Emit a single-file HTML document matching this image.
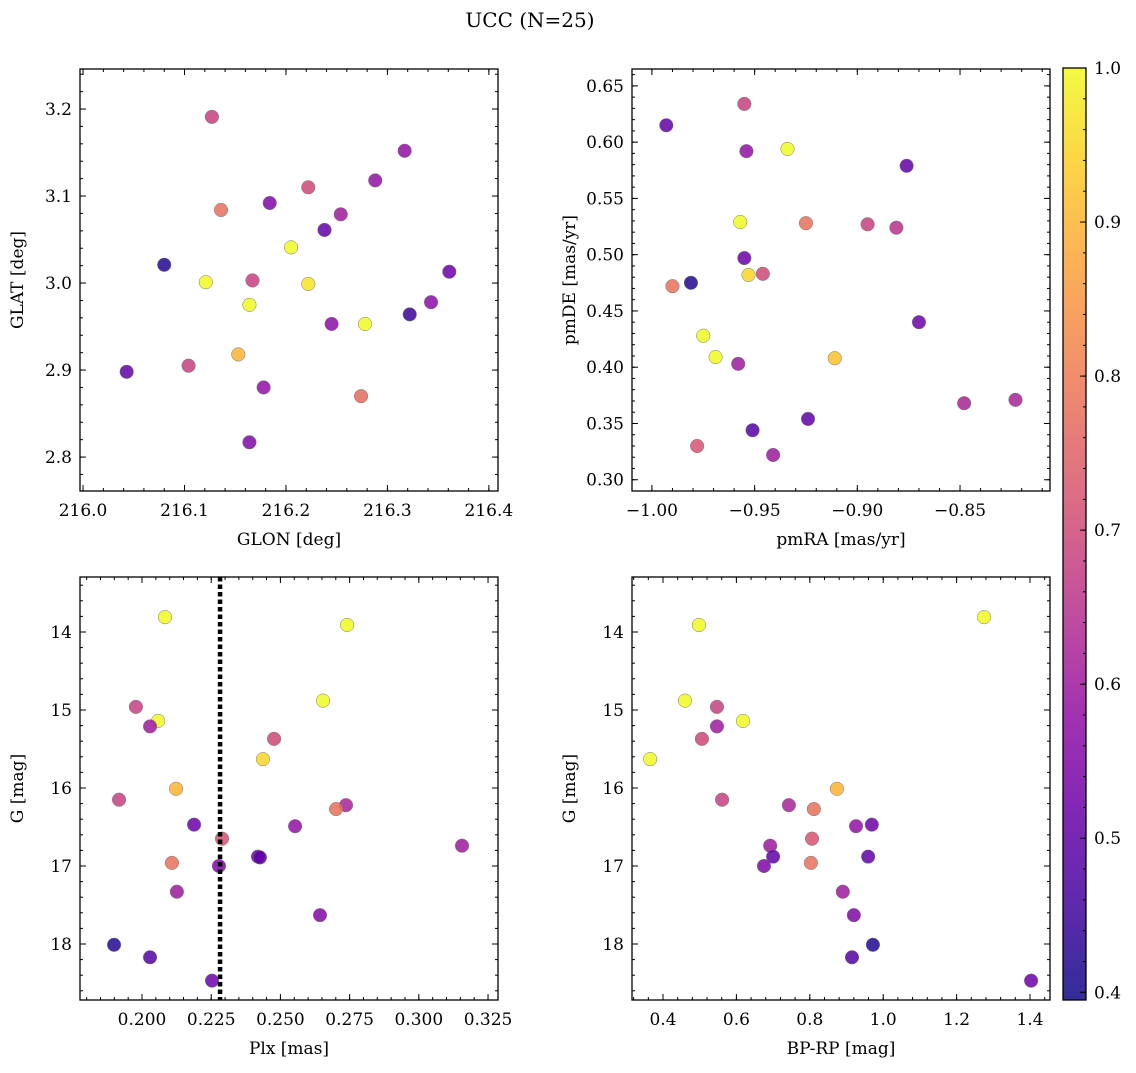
<!DOCTYPE html>
<html><head><meta charset="utf-8"><style>
body{margin:0;background:#fff}
svg text{font-family:"DejaVu Serif","Liberation Serif",serif;fill:#000}
</style></head><body>
<svg id="fig" width="1136" height="1068" xmlns="http://www.w3.org/2000/svg">
<text x="530" y="27" font-size="20" text-anchor="middle">UCC (N=25)</text>
<defs><linearGradient id="cg" x1="0" y1="1" x2="0" y2="0"></linearGradient></defs>
</svg>
<script>
// ---- data ----
const glon=[216.127,216.136,216.184,216.222,216.288,216.317,216.254,216.238,216.205,216.080,216.121,216.167,216.222,216.164,216.361,216.343,216.322,216.245,216.278,216.153,216.043,216.104,216.178,216.274,216.164];
const glat=[3.191,3.084,3.092,3.110,3.118,3.152,3.079,3.061,3.041,3.021,3.001,3.003,2.999,2.975,3.013,2.978,2.964,2.953,2.953,2.918,2.898,2.905,2.880,2.870,2.817];
const prob1=[0.68,0.78,0.55,0.70,0.58,0.58,0.60,0.50,1.0,0.42,1.0,0.68,0.97,1.0,0.52,0.57,0.45,0.57,1.0,0.90,0.50,0.68,0.58,0.77,0.55];
const pmra=[-0.955,-0.993,-0.954,-0.934,-0.876,-0.957,-0.925,-0.895,-0.881,-0.955,-0.953,-0.946,-0.981,-0.990,-0.975,-0.969,-0.958,-0.911,-0.870,-0.848,-0.823,-0.924,-0.951,-0.978,-0.941];
const pmde=[0.634,0.615,0.592,0.594,0.579,0.529,0.528,0.527,0.524,0.497,0.482,0.483,0.475,0.472,0.428,0.409,0.403,0.408,0.440,0.368,0.371,0.354,0.344,0.330,0.322];
const prob2=[0.68,0.50,0.58,1.0,0.50,1.0,0.78,0.68,0.65,0.52,0.95,0.70,0.42,0.78,1.0,1.0,0.60,0.92,0.52,0.62,0.62,0.50,0.48,0.72,0.60];
const plx=[0.2083,0.2741,0.1978,0.2058,0.2029,0.2654,0.2477,0.2437,0.1917,0.2123,0.2737,0.2701,0.2553,0.2188,0.2289,0.3156,0.2419,0.2426,0.2278,0.2108,0.2126,0.2643,0.1899,0.2029,0.2253];
const gmag3=[13.81,13.91,14.96,15.14,15.21,14.88,15.37,15.63,16.15,16.01,16.22,16.27,16.49,16.47,16.65,16.74,16.88,16.89,17.00,16.96,17.33,17.63,18.01,18.17,18.47];
const prob3=[1.0,1.0,0.68,1.0,0.60,1.0,0.70,0.95,0.68,0.90,0.62,0.78,0.58,0.52,0.72,0.60,0.50,0.50,0.55,0.78,0.60,0.55,0.42,0.48,0.52];
const bprp=[1.275,0.498,0.460,0.547,0.547,0.506,0.618,0.365,0.561,0.874,0.743,0.811,0.926,0.969,0.806,0.692,0.700,0.959,0.675,0.803,0.890,0.920,0.972,0.915,1.403];
const gmag4=[13.81,13.91,14.88,14.96,15.21,15.37,15.14,15.63,16.15,16.01,16.22,16.27,16.49,16.47,16.65,16.74,16.88,16.88,17.00,16.96,17.33,17.63,18.01,18.17,18.47];
const prob4=[1.0,1.0,1.0,0.68,0.60,0.70,1.0,1.0,0.68,0.90,0.62,0.78,0.58,0.52,0.72,0.60,0.50,0.50,0.55,0.78,0.60,0.55,0.42,0.48,0.52];
const plxCut=0.2282;
const cbTicks=[0.4,0.5,0.6,0.7,0.8,0.9,1.0];
const VMIN=0.395, VMAX=1.0;

const NS="http://www.w3.org/2000/svg";
const svg=document.getElementById('fig');
function mk(tag,attrs,parent){const e=document.createElementNS(NS,tag);for(const k in attrs)e.setAttribute(k,attrs[k]);(parent||svg).appendChild(e);return e;}
const stops=[[0,'#0d0887'],[0.1,'#41049d'],[0.2,'#6a00a8'],[0.3,'#8f0da4'],[0.4,'#b12a90'],[0.5,'#cc4778'],[0.6,'#e16462'],[0.7,'#f2844b'],[0.8,'#fca636'],[0.9,'#fcce25'],[1,'#f0f921']];
function hex(h){return [1,3,5].map(i=>parseInt(h.substr(i,2),16));}
function cmap(v){let t=(v-VMIN)/(VMAX-VMIN);t=Math.max(0,Math.min(1,t));
 for(let i=1;i<stops.length;i++){if(t<=stops[i][0]){const a=hex(stops[i-1][1]),b=hex(stops[i][1]);const f=(t-stops[i-1][0])/(stops[i][0]-stops[i-1][0]);
 return 'rgb('+a.map((x,j)=>Math.round(x+(b[j]-x)*f)).join(',')+')';}}return stops[10][1];}
function fmt(v,d){const s=Math.abs(v).toFixed(d);return (v<-1e-9?'\u2212':'')+s;}

function panel(o){
 const g=mk('g',{});
 
 
 const sx=v=>o.x0+(v-o.xmin)/(o.xmax-o.xmin)*(o.x1-o.x0);
 const sy=v=>o.inv? o.y0+(v-o.ymin)/(o.ymax-o.ymin)*(o.y1-o.y0) : o.y1-(v-o.ymin)/(o.ymax-o.ymin)*(o.y1-o.y0);
 for(let i=0;i<o.xs.length;i++){
  const c=mk('circle',{cx:sx(o.xs[i]),cy:sy(o.ys[i]),r:6.8,fill:cmap(o.cs[i]),'fill-opacity':0.85,stroke:'#777','stroke-width':0.5},g);
  
  
 }
 if(o.vline!==undefined){
  const l=mk('line',{x1:sx(o.vline),x2:sx(o.vline),y1:o.y0,y2:o.y1,stroke:'#000','stroke-width':4.5,'stroke-dasharray':'4.5 3'},g);
  
  
 }
 const eps=1e-9;
 function ticks(min,max,step){const a=[];for(let v=Math.ceil(min/step-eps)*step;v<=max+eps;v+=step)a.push(v);return a;}
 const tk=mk('g',{stroke:'#000','stroke-width':1},g);
 ticks(o.xmin,o.xmax,o.xminor).forEach(v=>{const x=sx(v);mk('line',{x1:x,x2:x,y1:o.y1,y2:o.y1-3},tk);mk('line',{x1:x,x2:x,y1:o.y0,y2:o.y0+3},tk);});
 ticks(o.ymin,o.ymax,o.yminor).forEach(v=>{const y=sy(v);mk('line',{x1:o.x0,x2:o.x0+3,y1:y,y2:y},tk);mk('line',{x1:o.x1,x2:o.x1-3,y1:y,y2:y},tk);});
 ticks(o.xmin,o.xmax,o.xmajor).forEach(v=>{const x=sx(v);mk('line',{x1:x,x2:x,y1:o.y1,y2:o.y1-6},tk);mk('line',{x1:x,x2:x,y1:o.y0,y2:o.y0+6},tk);
  const t=mk('text',{x:x,y:o.y1+25,'font-size':17,'text-anchor':'middle'},g);t.textContent=fmt(v,o.xdec);
  });
 ticks(o.ymin,o.ymax,o.ymajor).forEach(v=>{const y=sy(v);mk('line',{x1:o.x0,x2:o.x0+6,y1:y,y2:y},tk);mk('line',{x1:o.x1,x2:o.x1-6,y1:y,y2:y},tk);
  const t=mk('text',{x:o.x0-8,y:y+6,'font-size':17,'text-anchor':'end'},g);t.textContent=fmt(v,o.ydec);
  });
 const fr=mk('rect',{x:o.x0,y:o.y0,width:o.x1-o.x0,height:o.y1-o.y0,fill:'none',stroke:'#000','stroke-width':1.3},g);
 
 const xl=mk('text',{x:(o.x0+o.x1)/2,y:o.y1+54,'font-size':17,'text-anchor':'middle'},g);xl.textContent=o.xlabel;
 
 const yc=(o.y0+o.y1)/2, yx=o.x0-57;
 const yl=mk('text',{x:yx,y:yc,'font-size':17,'text-anchor':'middle',transform:`rotate(-90 ${yx} ${yc})`},g);yl.textContent=o.ylabel;
 
}
panel({name:'glon-glat-panel',x0:80,x1:498,y0:69,y1:491,xmin:215.997,xmax:216.409,ymin:2.761,ymax:3.246,xmajor:0.1,xminor:0.02,ymajor:0.1,yminor:0.02,xdec:1,ydec:1,xs:glon,ys:glat,cs:prob1,xlabel:'GLON [deg]',ylabel:'GLAT [deg]'});
panel({name:'pm-panel',x0:632,x1:1050,y0:69,y1:491,xmin:-1.0097,xmax:-0.8062,ymin:0.290,ymax:0.665,xmajor:0.05,xminor:0.01,ymajor:0.05,yminor:0.01,xdec:2,ydec:2,xs:pmra,ys:pmde,cs:prob2,xlabel:'pmRA [mas/yr]',ylabel:'pmDE [mas/yr]'});
panel({name:'plx-g-panel',inv:true,x0:80,x1:498,y0:577,y1:1000,xmin:0.1776,xmax:0.3286,ymin:13.295,ymax:18.718,xmajor:0.025,xminor:0.005,ymajor:1,yminor:0.2,xdec:3,ydec:0,xs:plx,ys:gmag3,cs:prob3,vline:plxCut,xlabel:'Plx [mas]',ylabel:'G [mag]'});
panel({name:'cmd-panel',inv:true,x0:632,x1:1050,y0:577,y1:1000,xmin:0.3155,xmax:1.4545,ymin:13.295,ymax:18.718,xmajor:0.2,xminor:0.04,ymajor:1,yminor:0.2,xdec:1,ydec:0,xs:bprp,ys:gmag4,cs:prob4,xlabel:'BP-RP [mag]',ylabel:'G [mag]'});

const grad=document.getElementById('cg');
for(let i=0;i<=20;i++){mk('stop',{offset:i/20,'stop-color':cmap(VMIN+(VMAX-VMIN)*i/20),'stop-opacity':0.85},grad);}
const cb=mk('g',{});


const cy0=68,cy1=1000,cx0=1063,cx1=1086;
mk('rect',{x:cx0,y:cy0,width:cx1-cx0,height:cy1-cy0,fill:'url(#cg)',stroke:'#000','stroke-width':1.3},cb);
const cys=v=>cy1-(v-VMIN)/(VMAX-VMIN)*(cy1-cy0);
for(let v=0.40;v<=1.0001;v+=0.02){mk('line',{x1:cx1,x2:cx1-3,y1:cys(v),y2:cys(v),stroke:'#000'},cb);}
cbTicks.forEach(v=>{const y=cys(v);mk('line',{x1:cx1,x2:cx1-6,y1:y,y2:y,stroke:'#000'},cb);
 const t=mk('text',{x:cx1+8,y:y+6,'font-size':17},cb);t.textContent=v.toFixed(1);
 });
</script>
</body></html>
